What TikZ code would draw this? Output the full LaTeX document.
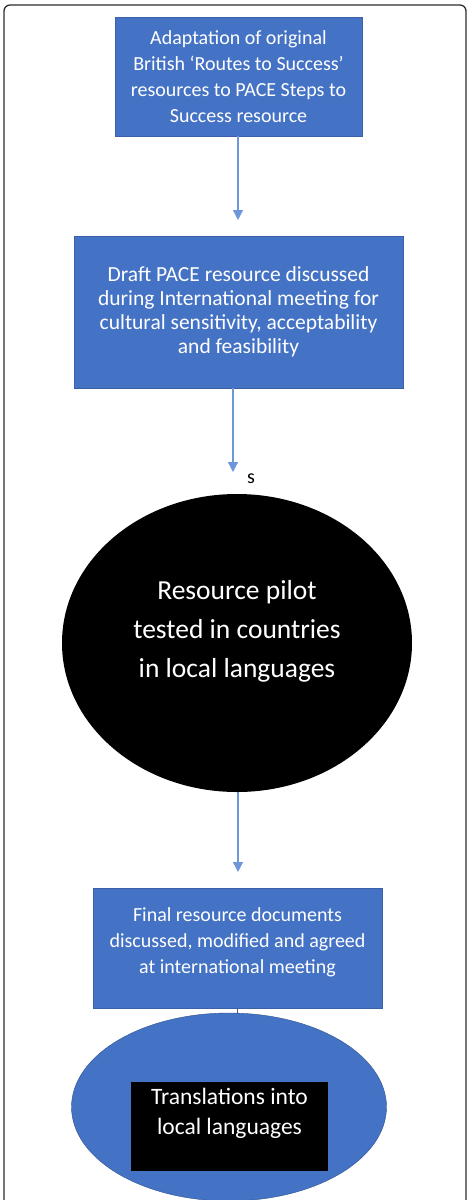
\documentclass[tikz,border=0pt]{standalone}
\usepackage{fontspec}
\setmainfont{Carlito}
\usetikzlibrary{shapes.geometric,arrows.meta}
\definecolor{pacebox}{RGB}{68,114,196}
\definecolor{paceedge}{RGB}{47,82,143}
\definecolor{pacearrow}{RGB}{110,150,218}
\definecolor{framegray}{RGB}{45,45,45}

\begin{document}
\begin{tikzpicture}[x=1pt, y=-1pt,
  stepbox/.style={rectangle, draw=pacebox!85!black, fill=pacebox, text=white, align=center, inner sep=0pt, font=\fontsize{20}{26}\selectfont},
  arrow/.style={-{Triangle[length=10pt, width=10pt]}, pacearrow, line width=1.2pt},
]
\useasboundingbox (0,0) rectangle (469,1200);

% === Outer frame (open at the bottom) ===
\draw[framegray, line width=1.3pt, rounded corners=6pt] (4,1200) -- (4,5) -- (466,5) -- (466,1200);

% === Steps ===
\node[stepbox, minimum width=247pt, minimum height=119pt] (adapt) at (238.5,76.5)
  {Adaptation of original\\British ‘Routes to Success’\\resources to PACE Steps to\\Success resource};
\node[stepbox, minimum width=329pt, minimum height=152pt, font=\fontsize{21.5}{24}\selectfont] (draft) at (238.5,312)
  {Draft PACE resource discussed\\during International meeting for\\cultural sensitivity, acceptability\\and feasibility\\[-20pt]\mbox{}};
\node[ellipse, fill=black, text=white, align=center, inner sep=0pt, minimum width=350pt, minimum height=298pt,
  font=\fontsize{27.5}{39}\selectfont] (pilot) at (237,643)
  {Resource pilot\\tested in countries\\in local languages\\[-10pt]\mbox{}};
\node[stepbox, minimum width=289pt, minimum height=120pt] (final) at (237.5,948)
  {Final resource documents\\discussed, modified and agreed\\at international meeting\\[-12pt]\mbox{}};
\node[ellipse, draw=paceedge, fill=pacebox, inner sep=0pt, minimum width=315pt, minimum height=188pt] (transl) at (229,1107) {};
\node[rectangle, fill=black, text=white, align=center, inner sep=0pt, minimum width=197pt, minimum height=89pt,
  font=\fontsize{23.5}{30}\selectfont] (translbox) at (229.5,1126.5)
  {Translations into\\local languages\\\mbox{}};

% === Arrow ends ===
\coordinate (tipA) at (238,220);
\coordinate (tipB) at (233,472);
\coordinate (tipC) at (238,872);
\node[font=\fontsize{20}{22}\selectfont] (s) at (251,479) {s};

% === Connectors ===
\draw[arrow] (adapt.south -| tipA) -- (tipA);
\draw[arrow] (draft.south -| tipB) -- (tipB);
\draw[arrow] (pilot.south -| tipC) -- (tipC);
\draw[paceedge!70!gray, line width=0.6pt] (final.south) -- (final.south |- transl.north);

\end{tikzpicture}
\end{document}
